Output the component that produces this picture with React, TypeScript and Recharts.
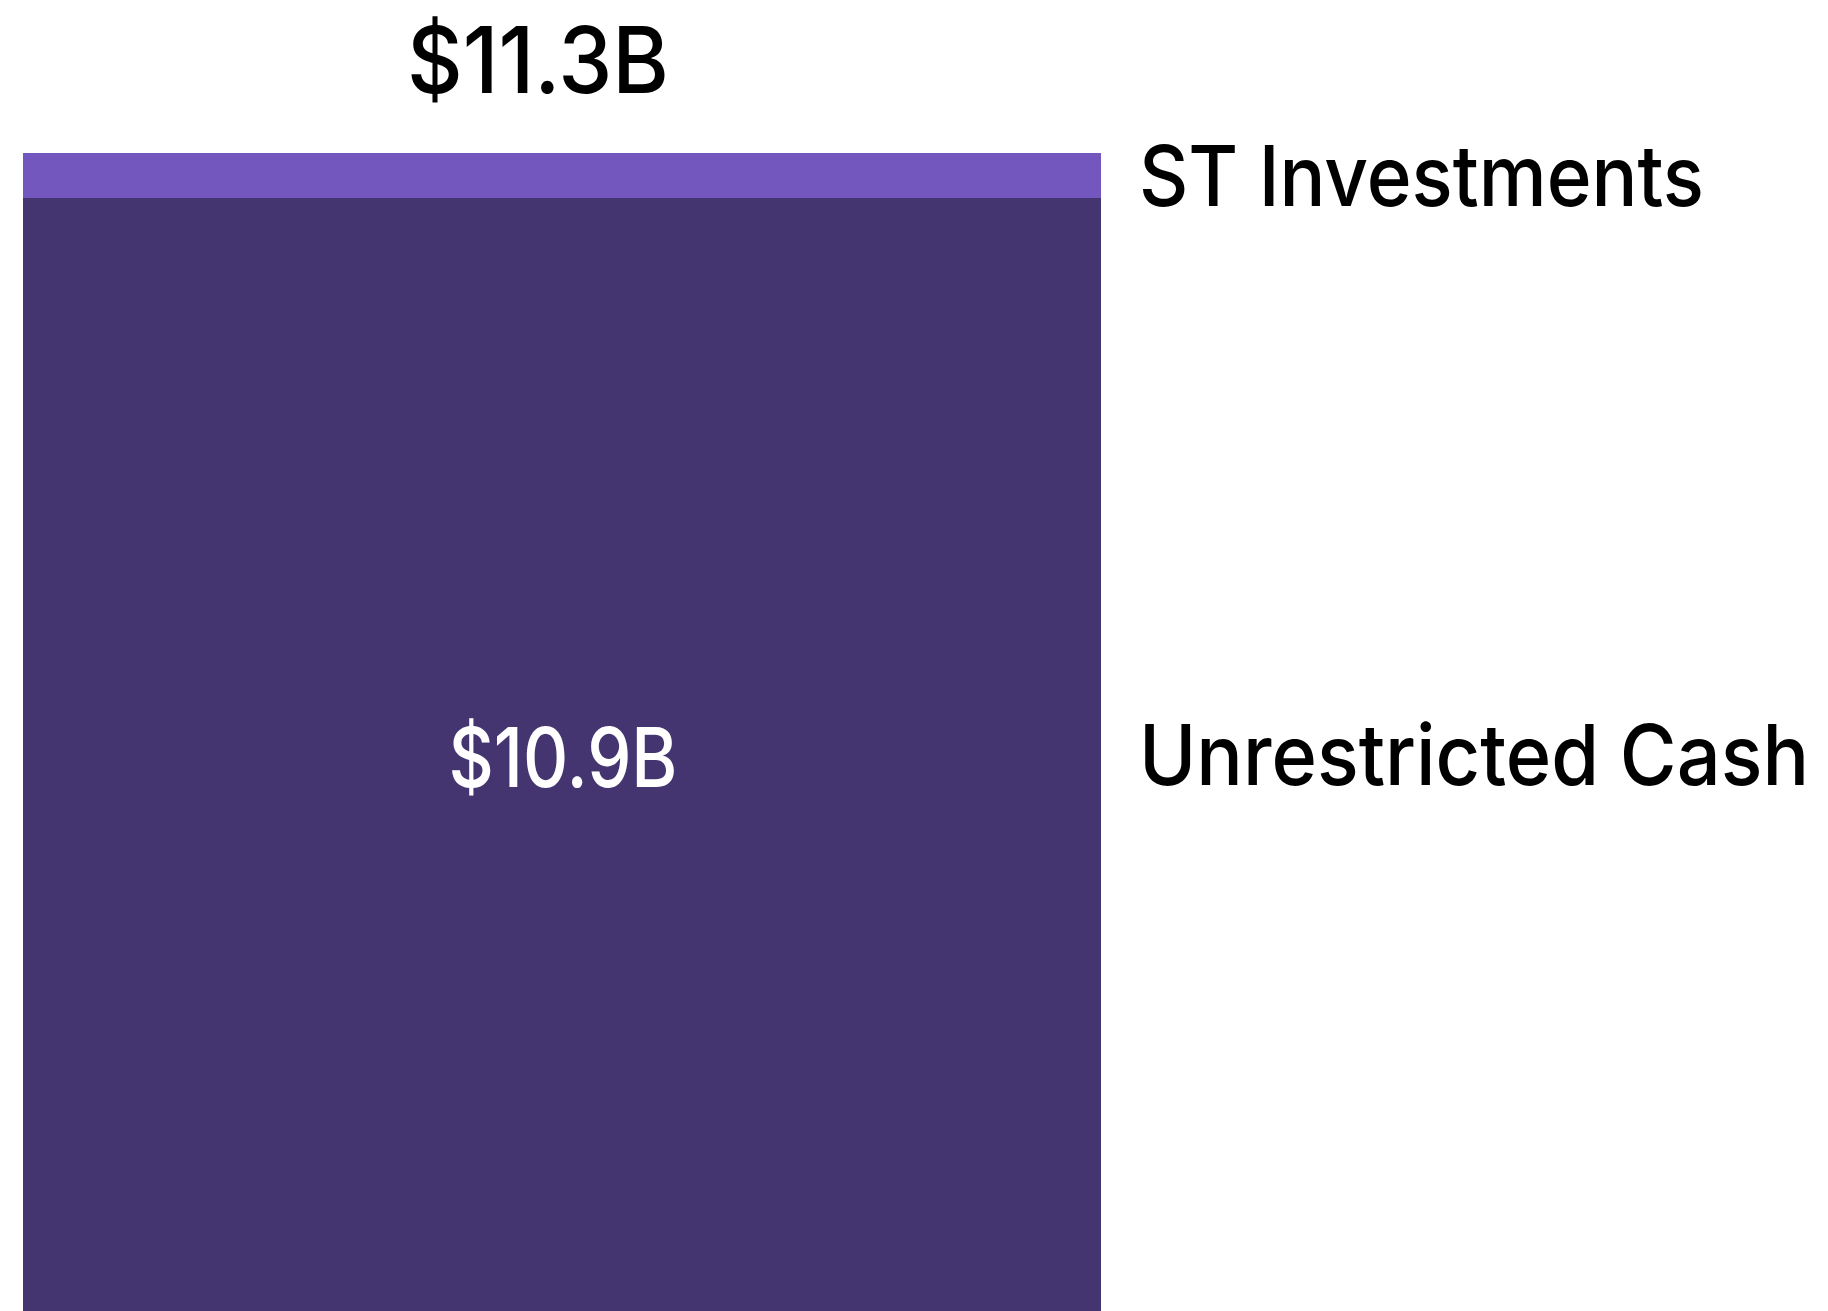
import React from 'react'
import { BarChart, Bar, XAxis, YAxis, LabelList } from 'recharts'

const categories = ['Liquidity']
const cashValues = [10.86]
const stInvestValues = [0.44]
const seriesNames = { cash: 'Unrestricted Cash', st: 'ST Investments' }

const data = categories.map((name, i) => ({
  name,
  cash: cashValues[i],
  st: stInvestValues[i],
  total: cashValues[i] + stInvestValues[i],
}))

const FONT = 'Inter, "Noto Sans", sans-serif'
const fmt = (v: number) => `$${v.toFixed(1)}B`

const SideLabel = (text: string, len: number) => (props: any) => {
  const { x, y, width, height } = props
  return (
    <text
      x={Number(x) + Number(width) + 38}
      y={Number(y) + Number(height) / 2}
      dominantBaseline="central"
      fill="#000"
      fontFamily={FONT}
      fontSize={84}
      fontWeight={500}
      textLength={len}
      lengthAdjust="spacingAndGlyphs"
    >
      {text}
    </text>
  )
}

const TotalLabel = (props: any) => {
  const { x, y, width, index } = props
  return (
    <text
      x={Number(x) + Number(width) / 2 - 24}
      y={Number(y) - 94}
      textAnchor="middle"
      dominantBaseline="central"
      fill="#000"
      fontFamily={FONT}
      fontSize={92}
      fontWeight={500}
      textLength={262}
      lengthAdjust="spacingAndGlyphs"
    >
      {fmt(data[index].total)}
    </text>
  )
}

const InnerLabel = (props: any) => {
  const { x, y, width, height, value } = props
  return (
    <text
      x={Number(x) + Number(width) / 2 + 1}
      y={Number(y) + Number(height) / 2 + 3}
      textAnchor="middle"
      dominantBaseline="central"
      fill="#fff"
      fontFamily={FONT}
      fontSize={82}
      fontWeight={500}
      textLength={229}
      lengthAdjust="spacingAndGlyphs"
    >
      {fmt(Number(value))}
    </text>
  )
}

export default function App() {
  return (
    <div style={{ position: 'absolute', left: 0, top: 0, background: '#fff' }}>
      <BarChart
        width={1828}
        height={1311}
        data={data}
        margin={{ top: 153, right: 727, left: 23, bottom: 0 }}
        barCategoryGap={0}
      >
        <XAxis dataKey="name" hide />
        <YAxis hide domain={[0, 'dataMax']} />
        <Bar dataKey="cash" stackId="a" fill="#443571" isAnimationActive={false}>
          <LabelList dataKey="cash" content={InnerLabel} />
          <LabelList dataKey="cash" content={SideLabel(seriesNames.cash, 670)} />
        </Bar>
        <Bar dataKey="st" stackId="a" fill="#7357be" isAnimationActive={false}>
          <LabelList dataKey="st" content={SideLabel(seriesNames.st, 565)} />
          <LabelList dataKey="st" content={TotalLabel} />
        </Bar>
      </BarChart>
    </div>
  )
}
